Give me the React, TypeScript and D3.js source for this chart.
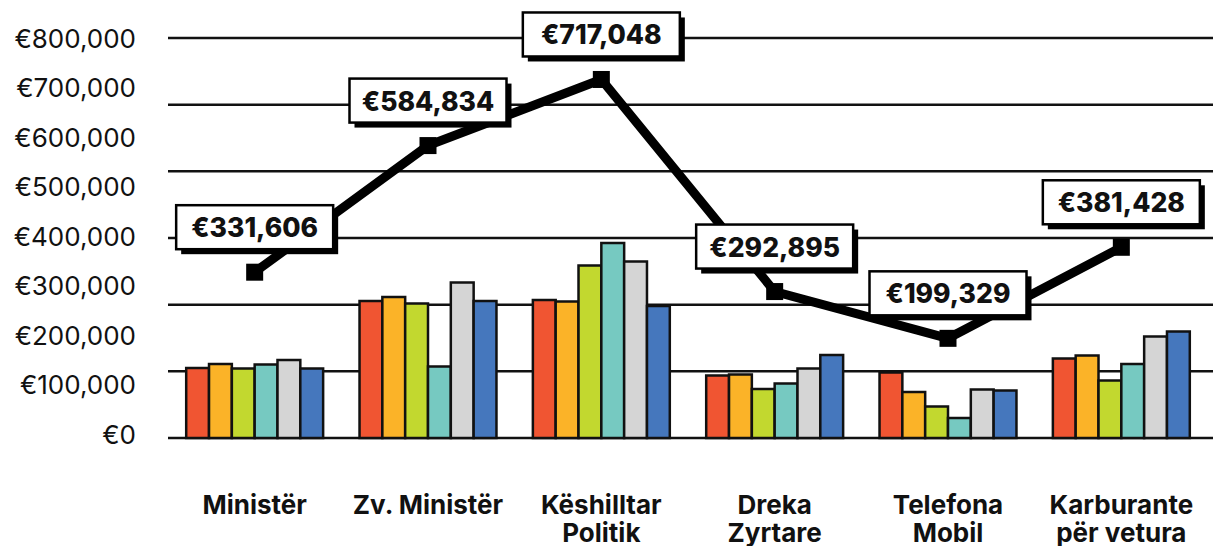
import React from "react";
import * as d3 from "d3";

const categories = ["Ministër", "Zv. Ministër", "Këshilltar Politik", "Dreka Zyrtare", "Telefona Mobil", "Karburante për vetura"];
const categoryLines = [["Ministër"], ["Zv. Ministër"], ["Këshilltar", "Politik"], ["Dreka", "Zyrtare"], ["Telefona", "Mobil"], ["Karburante", "për vetura"]];

const seriesKeys = ["s1", "s2", "s3", "s4", "s5", "s6"];
const seriesColors = ["#F05532", "#FBB328", "#C2D82F", "#76C9C1", "#D5D5D5", "#4577BD"];

const s1 = [140000, 274000, 276000, 125000, 131000, 159000];
const s2 = [148000, 282000, 273000, 127000, 92000, 165000];
const s3 = [139000, 269000, 345000, 98000, 63000, 115000];
const s4 = [147000, 143000, 390000, 109000, 40000, 148000];
const s5 = [156000, 311000, 353000, 139000, 97000, 203000];
const s6 = [139000, 274000, 264000, 166000, 95000, 213000];
const seriesValues = [s1, s2, s3, s4, s5, s6];

const totals = [331606, 584834, 717048, 292895, 199329, 381428];
const tickValues = [0, 100000, 200000, 300000, 400000, 500000, 600000, 700000, 800000];

export default function App() {
  const W = 1213, H = 546;
  const y = d3.scaleLinear().domain([0, 800000]).range([438, 38]);
  const yLabel = d3.scaleLinear().domain([0, 800000]).range([434, 38]);
  const x0 = d3.scaleBand<string>().domain(categories).range([168, 1208]).paddingInner(0.21).paddingOuter(0.105);
  const x1 = d3.scaleBand<string>().domain(seriesKeys).range([0, x0.bandwidth()]);
  const fmt = (v: number) => "€" + d3.format(",")(v);
  const gridValues = d3.range(0, 7).map((i) => (i * 800000) / 6);
  const cx = (c: string) => (x0(c) as number) + x0.bandwidth() / 2;
  const line = d3.line<number>().x((_, i) => cx(categories[i])).y((d) => y(d));
  const boxW = 157, boxH = 44, off = 45;

  return (
    <svg width={W} height={H} style={{ position: "absolute", left: 0, top: 0, background: "#fff" }} fontFamily="Inter, 'Noto Sans', sans-serif">
      {gridValues.map((g, i) => (
        <line key={i} x1={168} x2={1213} y1={y(g)} y2={y(g)} stroke="#111" strokeWidth={2.5} />
      ))}
      {tickValues.map((t) => (
        <text key={t} x={136} y={yLabel(t)} textAnchor="end" dominantBaseline="central" fontSize={26} fill="#111">
          {fmt(t)}
        </text>
      ))}
      {categories.map((c, ci) => (
        <g key={c} transform={`translate(${x0(c)},0)`}>
          {seriesKeys.map((k, si) => (
            <rect key={k} x={x1(k)} y={y(seriesValues[si][ci])} width={x1.bandwidth()} height={y(0) - y(seriesValues[si][ci])}
              fill={seriesColors[si]} stroke="#111" strokeWidth={2.5} />
          ))}
        </g>
      ))}
      <path d={line(totals) || ""} fill="none" stroke="#000" strokeWidth={9} strokeLinejoin="miter" />
      {totals.map((v, i) => (
        <rect key={i} x={cx(categories[i]) - 8.5} y={y(v) - 8.5} width={17} height={17} fill="#000" />
      ))}
      {totals.map((v, i) => {
        const bx = cx(categories[i]) - boxW / 2;
        const by = y(v) - off - boxH / 2;
        return (
          <g key={"l" + i}>
            <rect x={bx + 5} y={by + 5} width={boxW} height={boxH} fill="#000" />
            <rect x={bx} y={by} width={boxW} height={boxH} fill="#fff" stroke="#000" strokeWidth={2.5} />
            <text x={bx + boxW / 2} y={by + boxH / 2} textAnchor="middle" dominantBaseline="central" fontSize={26.5} fontWeight={800} fill="#111">
              {fmt(v)}
            </text>
          </g>
        );
      })}
      {categoryLines.map((lines, i) => (
        <text key={i} x={cx(categories[i])} y={514} textAnchor="middle" fontSize={26} fontWeight={700} fill="#111">
          {lines.map((l, j) => (
            <tspan key={j} x={cx(categories[i])} dy={j === 0 ? 0 : 28}>{l}</tspan>
          ))}
        </text>
      ))}
    </svg>
  );
}
